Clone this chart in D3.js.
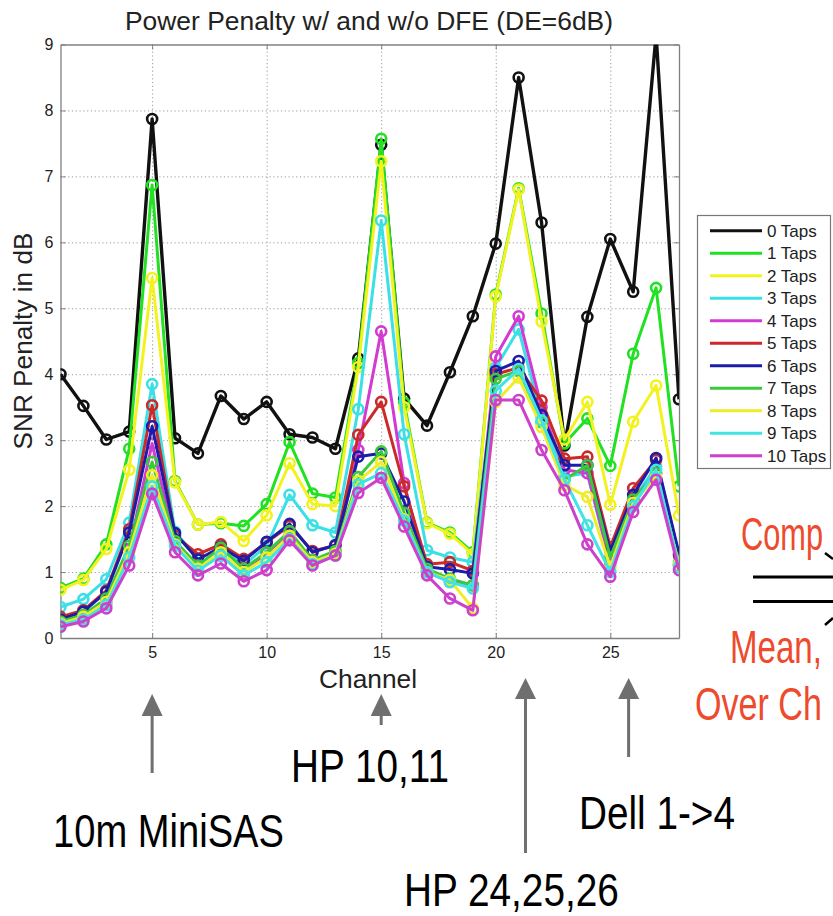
<!DOCTYPE html>
<html>
<head>
<meta charset="utf-8">
<script src="https://cdn.jsdelivr.net/npm/d3@7"></script>
<style>
  html, body { margin: 0; padding: 0; background: #fff; }
  svg { display: block; }
</style>
</head>
<body>
<div id="chart"></div>
<script>
// Channel index on the x axis
const channels = [1, 2, 3, 4, 5, 6, 7, 8, 9, 10, 11, 12, 13, 14, 15, 16, 17, 18, 19, 20, 21, 22, 23, 24, 25, 26, 27, 28];

// SNR penalty (dB) per channel for each DFE tap count
const taps0  = [4.00, 3.52, 3.01, 3.13, 7.87, 3.03, 2.80, 3.67, 3.32, 3.58, 3.09, 3.04, 2.87, 4.24, 7.48, 3.63, 3.22, 4.03, 4.88, 5.98, 8.50, 6.30, 2.92, 4.87, 6.05, 5.25, 9.15, 3.62];
const taps1  = [0.76, 0.90, 1.42, 2.87, 6.87, 2.38, 1.72, 1.74, 1.70, 2.03, 2.97, 2.19, 2.13, 4.17, 7.57, 3.57, 1.75, 1.60, 1.30, 5.21, 6.82, 4.92, 2.95, 3.33, 2.61, 4.31, 5.31, 2.30];
const taps2  = [0.73, 0.88, 1.35, 2.55, 5.46, 2.36, 1.72, 1.76, 1.47, 1.86, 2.65, 2.03, 2.00, 4.11, 7.23, 3.50, 1.74, 1.58, 1.27, 5.18, 6.80, 4.80, 3.01, 3.58, 2.02, 3.28, 3.83, 1.86];
const taps3  = [0.47, 0.59, 0.89, 1.75, 3.85, 1.61, 1.20, 1.35, 1.10, 1.40, 2.17, 1.71, 1.60, 3.47, 6.33, 3.09, 1.33, 1.22, 1.15, 4.10, 4.68, 3.35, 2.45, 2.50, 1.10, 2.10, 2.60, 1.15];
const taps4  = [0.22, 0.30, 0.55, 1.35, 2.95, 1.45, 1.05, 1.25, 0.98, 1.30, 1.55, 1.15, 1.30, 2.85, 4.65, 2.35, 1.00, 0.85, 0.80, 4.27, 4.88, 3.50, 2.55, 2.50, 1.15, 2.10, 2.50, 1.10];
const taps5  = [0.32, 0.42, 0.72, 1.65, 3.53, 1.55, 1.27, 1.42, 1.20, 1.45, 1.70, 1.32, 1.40, 3.08, 3.58, 2.30, 1.12, 1.15, 1.02, 4.00, 4.10, 3.60, 2.72, 2.75, 1.38, 2.27, 2.70, 1.25];
const taps6  = [0.28, 0.40, 0.70, 1.60, 3.21, 1.59, 1.19, 1.38, 1.17, 1.46, 1.73, 1.30, 1.41, 2.75, 2.80, 2.07, 1.08, 1.04, 0.98, 4.05, 4.20, 3.38, 2.62, 2.62, 1.32, 2.17, 2.73, 1.28];
const taps7  = [0.25, 0.35, 0.60, 1.40, 2.67, 1.47, 1.10, 1.37, 1.05, 1.30, 1.62, 1.18, 1.32, 2.44, 2.83, 1.90, 1.05, 0.90, 0.80, 3.93, 4.05, 3.27, 2.40, 2.62, 1.22, 2.10, 2.50, 1.12];
const taps8  = [0.22, 0.32, 0.55, 1.30, 2.47, 1.42, 1.05, 1.30, 1.00, 1.22, 1.55, 1.15, 1.28, 2.38, 2.67, 1.80, 1.00, 0.88, 0.45, 3.58, 3.95, 3.20, 2.32, 2.14, 1.08, 2.05, 2.45, 1.12];
const taps9  = [0.20, 0.28, 0.50, 1.22, 2.30, 1.40, 1.02, 1.25, 0.95, 1.15, 1.50, 1.12, 1.25, 2.33, 2.50, 1.78, 1.00, 0.85, 0.75, 3.75, 4.08, 3.30, 2.40, 1.71, 1.00, 2.00, 2.55, 1.08];
const taps10 = [0.17, 0.25, 0.45, 1.10, 2.19, 1.30, 0.95, 1.13, 0.86, 1.03, 1.48, 1.10, 1.25, 2.20, 2.43, 1.69, 0.95, 0.60, 0.42, 3.61, 3.61, 2.85, 2.24, 1.42, 0.93, 1.91, 2.40, 1.03];

const seriesNames = ["0 Taps", "1 Taps", "2 Taps", "3 Taps", "4 Taps", "5 Taps", "6 Taps", "7 Taps", "8 Taps", "9 Taps", "10 Taps"];
const seriesValues = [taps0, taps1, taps2, taps3, taps4, taps5, taps6, taps7, taps8, taps9, taps10];
const seriesColors = ["#111111", "#22e022", "#f2f21e", "#3ae0e6", "#d23ad2", "#cc2a2a", "#1c1ca8", "#3cc83c", "#f0ec28", "#40e4e4", "#cc40cc"];

const xTicks = [5, 10, 15, 20, 25];
const yTicks = [0, 1, 2, 3, 4, 5, 6, 7, 8, 9];

// Annotation arrows below the axis and their captions
const markerChannels = [5, 15, 21.3, 25.8];
const captions = [
  { text: "10m MiniSAS", x: 53,  y: 847, len: 231 },
  { text: "HP 10,11",    x: 291, y: 782, len: 158 },
  { text: "HP 24,25,26", x: 404, y: 906, len: 215 },
  { text: "Dell 1->4",   x: 579, y: 829, len: 156 }
];
const sideNotes = [
  { text: "Comp",    x: 741, y: 550, len: 82 },
  { text: "Mean,",   x: 730, y: 663, len: 92 },
  { text: "Over Ch", x: 695, y: 720, len: 127 }
];

const W = 833, H = 916;
const plot = { left: 60.5, right: 679, top: 44.5, bottom: 638 };

const svg = d3.select("#chart").append("svg")
  .attr("width", W).attr("height", H)
  .attr("viewBox", `0 0 ${W} ${H}`)
  .style("font-family", "'Liberation Sans', Arial, Helvetica, sans-serif");

svg.append("rect").attr("width", W).attr("height", H).attr("fill", "#fff");

const x = d3.scaleLinear().domain([1, 28]).range([plot.left, plot.right]);
const y = d3.scaleLinear().domain([0, 9]).range([plot.bottom, plot.top]);

const pw = plot.right - plot.left, ph = plot.bottom - plot.top;

// dotted grid
const grid = svg.append("g").attr("class", "grid");
grid.append("g")
  .attr("transform", `translate(0,${plot.bottom})`)
  .call(d3.axisBottom(x).tickValues(xTicks).tickSize(-ph).tickFormat(""))
  .call(g => g.select(".domain").remove());
grid.append("g")
  .attr("transform", `translate(${plot.left},0)`)
  .call(d3.axisLeft(y).tickValues(yTicks.slice(1, -1)).tickSize(-pw).tickFormat(""))
  .call(g => g.select(".domain").remove());
grid.selectAll("line")
  .attr("stroke", "#9a9a9a").attr("stroke-width", 1).attr("stroke-dasharray", "1.2,2.6");

// axes with inward ticks on all four sides
const axisColor = "#808080";
const axB = svg.append("g").attr("transform", `translate(0,${plot.bottom})`)
  .call(d3.axisBottom(x).tickValues(xTicks).tickSizeInner(-5).tickSizeOuter(0).tickPadding(9).tickFormat(d3.format("d")));
const axT = svg.append("g").attr("transform", `translate(0,${plot.top})`)
  .call(d3.axisTop(x).tickValues(xTicks).tickSizeInner(-5).tickSizeOuter(0).tickFormat(""));
const axL = svg.append("g").attr("transform", `translate(${plot.left},0)`)
  .call(d3.axisLeft(y).tickValues(yTicks).tickSizeInner(-5).tickSizeOuter(0).tickPadding(7).tickFormat(d3.format("d")));
const axR = svg.append("g").attr("transform", `translate(${plot.right},0)`)
  .call(d3.axisRight(y).tickValues(yTicks).tickSizeInner(-5).tickSizeOuter(0).tickFormat(""));
[axB, axT, axL, axR].forEach(a => {
  a.select(".domain").attr("stroke", axisColor).attr("stroke-width", 1.3);
  a.selectAll(".tick line").attr("stroke", axisColor);
  a.selectAll("text").attr("font-size", 16).attr("fill", "#222")
    .style("font-family", "'Liberation Sans', Arial, sans-serif");
});

// clip series to the plot box
svg.append("clipPath").attr("id", "plotClip")
  .append("rect").attr("x", plot.left).attr("y", plot.top).attr("width", pw).attr("height", ph);

const line = d3.line().x((d, i) => x(channels[i])).y(d => y(d));

const series = svg.append("g").attr("clip-path", "url(#plotClip)");
seriesValues.forEach((vals, s) => {
  const g = series.append("g");
  g.append("path")
    .datum(vals)
    .attr("d", line)
    .attr("fill", "none")
    .attr("stroke", seriesColors[s])
    .attr("stroke-width", s === 0 ? 3.4 : 3)
    .attr("stroke-linejoin", "round");
  g.selectAll("circle")
    .data(vals)
    .join("circle")
    .attr("cx", (d, i) => x(channels[i]))
    .attr("cy", d => y(d))
    .attr("r", 5)
    .attr("fill", "none")
    .attr("stroke", seriesColors[s])
    .attr("stroke-width", 2.6);
});

// title and axis labels
svg.append("text")
  .attr("x", 369).attr("y", 29.5)
  .attr("text-anchor", "middle")
  .attr("font-size", 25).attr("fill", "#222")
  .attr("textLength", 488).attr("lengthAdjust", "spacingAndGlyphs")
  .text("Power Penalty w/ and w/o DFE (DE=6dB)");

svg.append("text")
  .attr("transform", "translate(32,341) rotate(-90)")
  .attr("text-anchor", "middle")
  .attr("font-size", 26).attr("fill", "#222")
  .attr("textLength", 217).attr("lengthAdjust", "spacingAndGlyphs")
  .text("SNR Penalty in dB");

svg.append("text")
  .attr("x", 368).attr("y", 688)
  .attr("text-anchor", "middle")
  .attr("font-size", 26).attr("fill", "#222")
  .attr("textLength", 98).attr("lengthAdjust", "spacingAndGlyphs")
  .text("Channel");

// legend
const legend = svg.append("g");
legend.append("rect")
  .attr("x", 697.5).attr("y", 215.5).attr("width", 133).attr("height", 253)
  .attr("fill", "#fff").attr("stroke", "#777").attr("stroke-width", 1.2);
seriesNames.forEach((name, i) => {
  const cy = 230.7 + i * 22.5;
  legend.append("line")
    .attr("x1", 710).attr("x2", 762).attr("y1", cy).attr("y2", cy)
    .attr("stroke", seriesColors[i]).attr("stroke-width", 3);
  legend.append("text")
    .attr("x", 767).attr("y", cy + 6)
    .attr("font-size", 17).attr("fill", "#222")
    .text(name);
});

// arrows pointing at channels of interest
const arrowColor = "#6f6f6f";
const arrowSpecs = [
  { tip: 694, base: 716, end: 773 },
  { tip: 694, base: 716, end: 725 },
  { tip: 678, base: 699, end: 853 },
  { tip: 678, base: 699, end: 757 }
];
markerChannels.forEach((c, i) => {
  const ax = x(c), a = arrowSpecs[i];
  svg.append("line")
    .attr("x1", ax).attr("x2", ax).attr("y1", a.base - 1).attr("y2", a.end)
    .attr("stroke", arrowColor).attr("stroke-width", 3);
  svg.append("path")
    .attr("d", `M${ax},${a.tip} L${ax - 10.5},${a.base} L${ax + 10.5},${a.base} Z`)
    .attr("fill", arrowColor);
});

// condensed captions: measure each string, then squeeze it horizontally to its width
function condensedText(t, color) {
  const el = svg.append("text")
    .attr("font-size", 47).attr("fill", color)
    .text(t.text);
  const natural = el.node().getComputedTextLength();
  const sx = t.len / natural;
  el.attr("transform", `translate(${t.x},${t.y}) scale(${sx},1)`);
  return el;
}
captions.forEach(c => condensedText(c, "#000"));

// side note at the right edge
const noteRed = "#ee4a2c";
sideNotes.forEach(t => condensedText(t, noteRed));

[577, 601.5].forEach(ly => {
  svg.append("line")
    .attr("x1", 753).attr("x2", 833).attr("y1", ly).attr("y2", ly)
    .attr("stroke", "#000").attr("stroke-width", 3);
});
svg.append("line").attr("x1", 825).attr("y1", 553).attr("x2", 833).attr("y2", 559)
  .attr("stroke", "#000").attr("stroke-width", 2.5);
svg.append("line").attr("x1", 825).attr("y1", 625).attr("x2", 833).attr("y2", 618)
  .attr("stroke", "#000").attr("stroke-width", 2.5);
</script>
</body>
</html>
